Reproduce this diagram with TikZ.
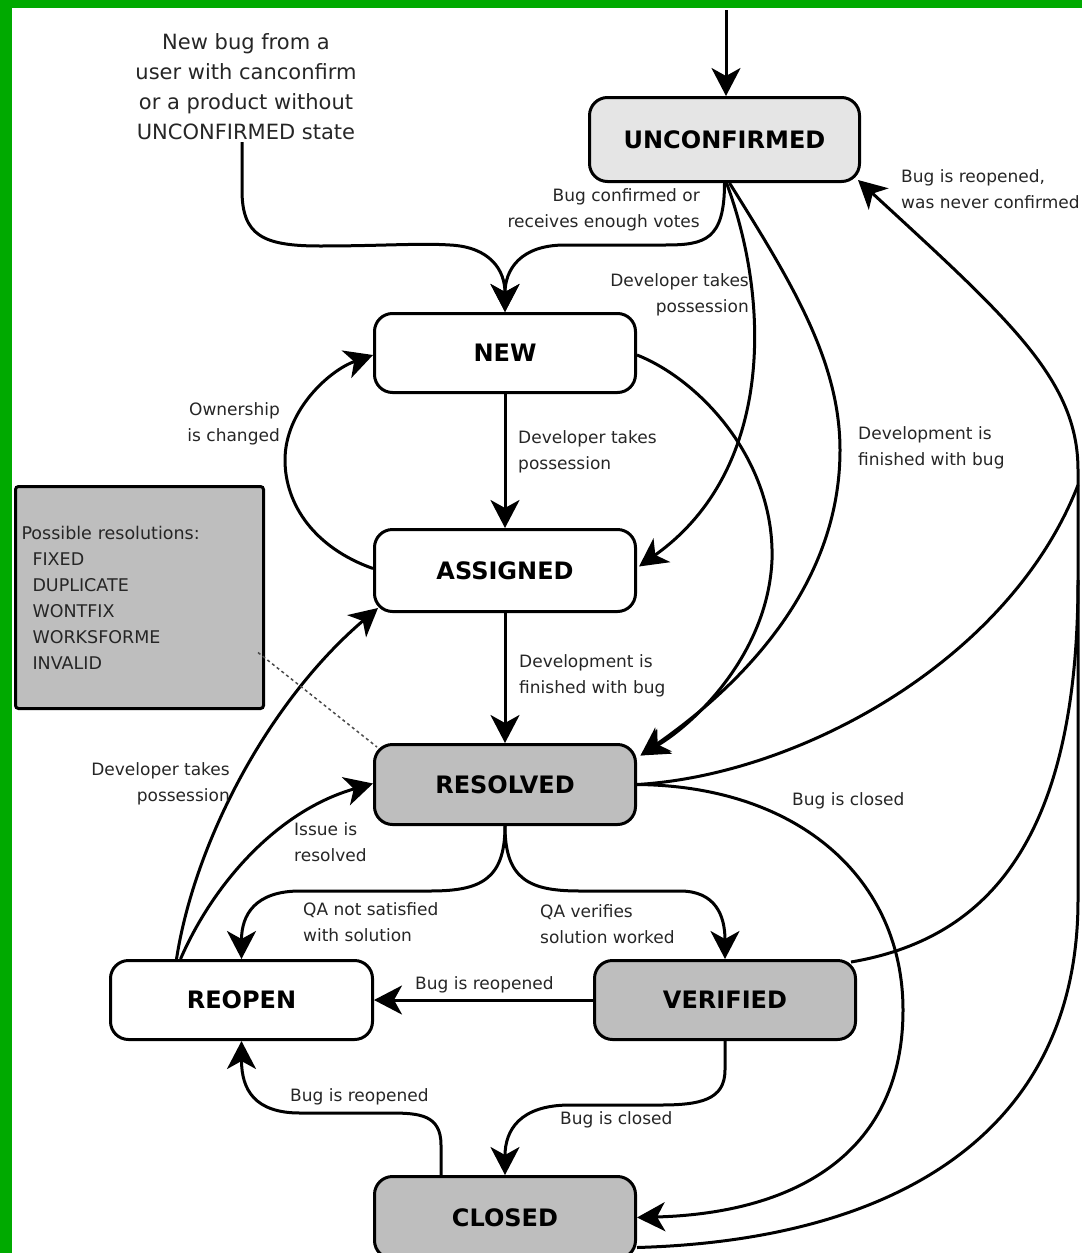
\documentclass[tikz,border=0pt]{standalone}
\usepackage{fontspec}
\setmainfont{DejaVu Sans}
\usetikzlibrary{arrows.meta,calc}
\definecolor{bggreen}{RGB}{0,170,0}
\definecolor{lightfill}{RGB}{229,229,229}
\definecolor{grayfill}{RGB}{190,190,190}
\definecolor{labelc}{RGB}{38,38,38}
\begin{document}
\begin{tikzpicture}[x=1pt,y=-1pt,
  state/.style={draw=black, line width=3pt, rounded corners=18pt,
    font=\fontsize{24}{28}\selectfont\bfseries, inner sep=0pt,
    minimum width=261pt, minimum height=80pt},
  edge/.style={line width=3pt, -{Stealth[length=28pt,width=29pt,inset=8pt]}},
  plainedge/.style={line width=3pt},
  lbl/.style={font=\fontsize{17}{26}\selectfont, text=labelc, inner sep=0pt},
  initlbl/.style={font=\fontsize{21}{30}\selectfont, text=labelc, inner sep=0pt, align=center},
  notebox/.style={draw=black, line width=3pt, rounded corners=3pt, fill=grayfill,
    font=\fontsize{17.5}{26}\selectfont, text=labelc, align=left,
    minimum width=248pt, minimum height=222pt, inner xsep=6pt, text width=236pt},
  noteline/.style={line width=1.5pt, dash pattern=on 3pt off 3pt, draw=black!70},
]
\useasboundingbox (0,0) rectangle (1082,1253);
\fill[bggreen] (0,0) rectangle (1082,1253);
\fill[white] (12,8) rectangle (1090,1262);

% states
\node[state, fill=lightfill, minimum width=270pt, minimum height=84pt] (unc) at (724.5,139.5) {UNCONFIRMED};
\node[state, fill=white, minimum height=79pt] (new) at (505,353) {NEW};
\node[state, fill=white, minimum height=82pt] (asg) at (505,570.5) {ASSIGNED};
\node[state, fill=grayfill] (res) at (505,784.5) {RESOLVED};
\node[state, fill=white, minimum width=262pt, minimum height=79pt] (reo) at (241.5,1000) {REOPEN};
\node[state, fill=grayfill, minimum height=79pt] (ver) at (725,1000) {VERIFIED};
\node[state, fill=grayfill, minimum height=82pt] (clo) at (505,1217.5) {CLOSED};

% note box
\node[notebox] (resbox) at (139.5,597.5) {Possible resolutions:\\
\hspace*{11pt}FIXED\\
\hspace*{11pt}DUPLICATE\\
\hspace*{11pt}WONTFIX\\
\hspace*{11pt}WORKSFORME\\
\hspace*{11pt}INVALID};

% initial text
\node[initlbl] (init) at (246,87) {New bug from a\\user with canconfirm\\or a product without\\UNCONFIRMED state};
\coordinate (initEnd) at (242,142);
\coordinate (entry) at (726,10);

% connectors
\draw[edge] (entry) -- (entry |- unc.north);
\draw[edge] (initEnd) -- (242,190) .. controls (242,235) and (262,246) .. (320,246)
   .. controls (380,246) and (420,243) .. (450,245) .. controls (490,247) and (505,270) .. (new.north);
\draw[edge] (unc.south) .. controls (724.5,240) and (705,245) .. (665,245) -- (565,245)
   .. controls (520,245) and (505,270) .. (new.north);
\draw[edge] ($(unc.south)+(2,0)$) .. controls (770,300) and (775,470) .. ($(asg.east)+(2,-4)$);
\draw[edge] ($(unc.south)+(5,0)$) .. controls (790,280) and (840,360) .. (840,450)
   .. controls (840,600) and (720,700) .. ($(res.north east)+(3.5,12.5)$);
\draw[edge] ($(new.east)+(0,2)$) .. controls (700,380) and (775,460) .. (772,560)
   .. controls (768,650) and (700,720) .. ($(res.north east)+(3.5,12.5)$);
\draw[edge] (new.south) -- (asg.north);
\draw[edge] (asg.south) -- (res.north);
\draw[edge] ($(asg.west)+(0,-2)$) .. controls (315,548) and (285,505) .. (285,460)
   .. controls (285,410) and (330,370) .. ($(new.west)+(0,2)$);
\draw[edge] (res.east) .. controls (800,786) and (903,880) .. (903,1010)
   .. controls (903,1150) and (800,1213) .. (clo.east);
\draw[edge] ($(clo.east)+(0,30)$) .. controls (900,1240) and (1078,1130) .. (1078,900) -- (1078,470)
   .. controls (1078,380) and (1010,320) .. ($(unc.south east)+(-3,-3)$);
\draw[plainedge] (res.east) .. controls (800,775) and (1010,660) .. (1078,485);
\draw[plainedge] ($(ver.north east)+(-6,3)$) .. controls (980,940) and (1078,850) .. (1078,580);
\draw[edge] (res.south) .. controls (505,880) and (480,891) .. (430,891) -- (300,891)
   .. controls (255,891) and (241.5,915) .. (reo.north);
\draw[edge] (res.south) .. controls (505,880) and (530,891) .. (580,891) -- (680,891)
   .. controls (715,891) and (725,915) .. (ver.north);
\draw[edge] (ver.west) -- (reo.east);
\draw[edge] (ver.south) -- (725,1070) .. controls (725,1100) and (700,1105) .. (660,1105) -- (570,1105)
   .. controls (520,1105) and (505,1130) .. (clo.north);
\draw[edge] ($(clo.north)+(-64,0)$) -- (441,1145) .. controls (441,1115) and (420,1113) .. (390,1113) -- (300,1113)
   .. controls (255,1113) and (241.5,1090) .. (reo.south);
\draw[edge] ($(reo.north)+(-65,0)$) .. controls (195,840) and (270,700) .. ($(asg.south west)+(5,-5)$);
\draw[edge] ($(reo.north)+(-61,0)$) .. controls (215,880) and (280,810) .. ($(res.west)+(0,-1)$);
\draw[noteline] ($(resbox.east)+(-7,55)$) -- ($(res.north west)+(4,4)$);

% labels
\node[lbl, align=right, anchor=east] (l1) at (700,210) {Bug confirmed or\\receives enough votes};
\node[lbl, align=right, anchor=east] (l2) at (749,295) {Developer takes\\possession};
\node[lbl, align=left, anchor=west] (l3) at (858,448) {Development is\\finished with bug};
\node[lbl, align=left, anchor=west] (l4) at (518,452) {Developer takes\\possession};
\node[lbl, align=right, anchor=east] (l5) at (280,424) {Ownership\\is changed};
\node[lbl, align=left, anchor=west] (l6) at (519,676) {Development is\\finished with bug};
\node[lbl, align=left, anchor=west] (l7) at (901,189) {Bug is reopened,\\was never confirmed};
\node[lbl, anchor=west] (l8) at (792,801) {Bug is closed};
\node[lbl, align=right, anchor=east] (l9) at (230,784) {Developer takes\\possession};
\node[lbl, align=left, anchor=west] (l10) at (294,842) {Issue is\\resolved};
\node[lbl, align=left, anchor=west] (l11) at (303,922) {QA not satisfied\\with solution};
\node[lbl, align=left, anchor=west] (l12) at (540,924) {QA verifies\\solution worked};
\node[lbl, anchor=west] (l13) at (415,985) {Bug is reopened};
\node[lbl, anchor=west] (l14) at (560,1120) {Bug is closed};
\node[lbl, anchor=west] (l15) at (290,1097) {Bug is reopened};
\end{tikzpicture}
\end{document}
